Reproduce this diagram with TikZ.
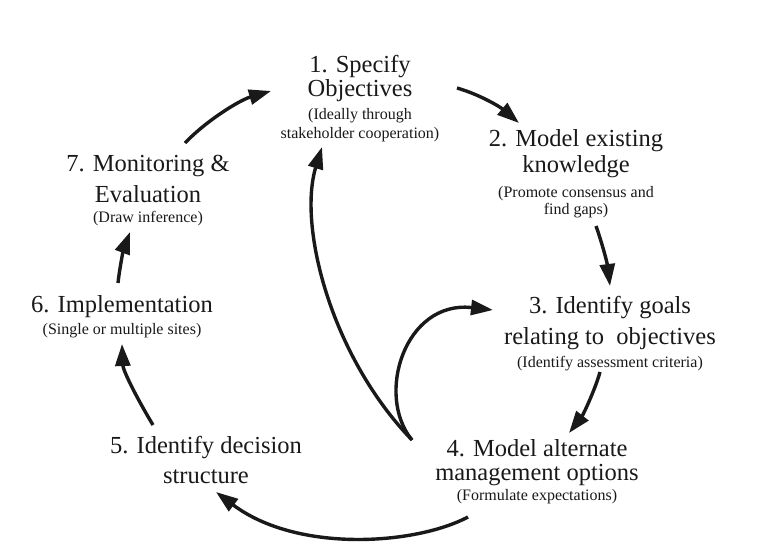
\documentclass[tikz,border=0pt]{standalone}
\usepackage{fontspec}
\setmainfont{Liberation Serif}
\usetikzlibrary{arrows.meta}
\newcommand\mysub{\fontsize{16}{18}\selectfont}
\tikzset{
  lbl/.style={align=center, anchor=base, inner sep=0pt, font=\fontsize{24.5}{26}\selectfont, text=black!90},
  conn/.style={line width=3.4pt, draw=black!90, -{Triangle[length=22pt,width=15pt]}}
}
\begin{document}
\begin{tikzpicture}[x=1pt,y=-1pt]
\useasboundingbox[fill=white] (0,0) rectangle (768,553);
\node[lbl] (n1) at (360,139) {1. Specify\\[-2pt]Objectives\\[-3pt]{\mysub (Ideally through}\\[-7pt]{\mysub stakeholder cooperation)}};
\node[lbl] (n2) at (576,215) {2. Model existing\\knowledge\\[-1pt]{\mysub (Promote consensus and}\\[-9pt]{\mysub find gaps)}};
\node[lbl] (n3) at (610,367) {3. Identify goals\\[5pt]relating to\ \ objectives\\[-3pt]{\mysub (Identify assessment criteria)}};
\node[lbl] (n4) at (537,500) {4. Model alternate\\[-2pt]management options\\[-6pt]{\mysub (Formulate expectations)}};
\node[lbl] (n5) at (206,483) {5. Identify decision\\[4pt]structure};
\node[lbl] (n6) at (122,334) {6. Implementation\\[-5pt]{\mysub (Single or multiple sites)}};
\node[lbl] (n7) at (148,223) {7. Monitoring \&\\[5pt]Evaluation\\[-6pt]{\mysub (Draw inference)}};
% connector end points
\coordinate (s12) at (457,88);   \coordinate (e12) at (519,123);
\coordinate (s23) at (596,226);  \coordinate (e23) at (610,286);
\coordinate (s34) at (600,372);  \coordinate (e34) at (569,433);
\coordinate (s45) at (468,517);  \coordinate (e45) at (216,492);
\coordinate (s56) at (153,425);  \coordinate (e56) at (122,344);
\coordinate (s67) at (118,283);  \coordinate (e67) at (130,232);
\coordinate (s71) at (185,143);  \coordinate (e71) at (271,91);
\coordinate (cusp) at (412,440);
\coordinate (e41) at (322,147);  \coordinate (e43) at (493,310);
\draw[conn] (s12) .. controls (478,94) and (499,106) .. (e12);
\draw[conn] (s23) .. controls (602,243) and (607,262) .. (e23);
\draw[conn] (s34) .. controls (595,390) and (583,415) .. (e34);
\draw[conn] (s45) .. controls (415,545) and (297,553) .. (e45);
\draw[conn] (s56) .. controls (135,395) and (123,370) .. (e56);
\draw[conn] (s67) .. controls (120,265) and (124,248) .. (e67);
\draw[conn] (s71) .. controls (207,120) and (240,100) .. (e71);
\draw[conn] (cusp) .. controls (330,355) and (298,225) .. (e41);
\draw[conn] (cusp) .. controls (375,395) and (405,300) .. (e43);
\end{tikzpicture}
\end{document}
